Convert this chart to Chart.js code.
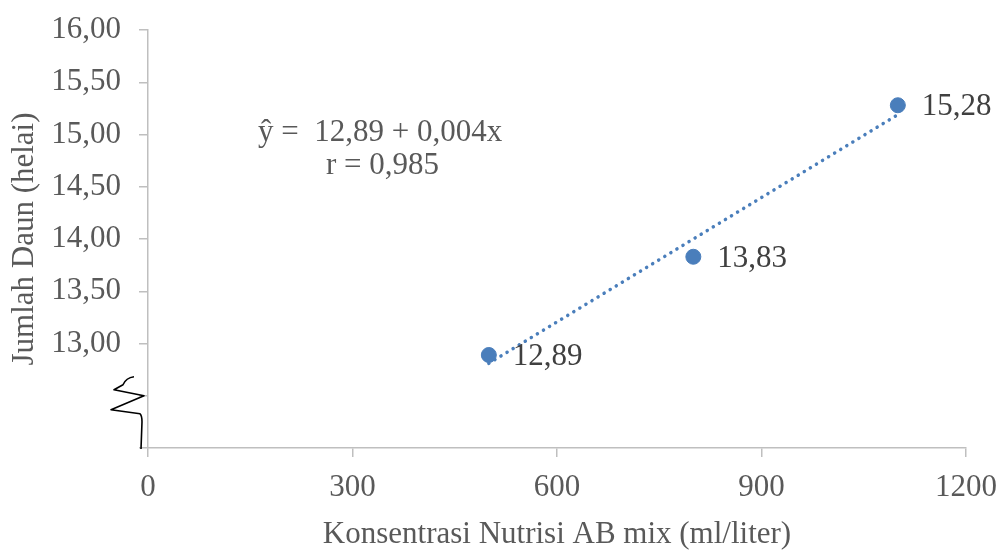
<!DOCTYPE html>
<html>
<head>
<meta charset="utf-8">
<script src="https://cdn.jsdelivr.net/npm/chart.js@4.4.1/dist/chart.umd.min.js"></script>
<style>
  html, body { margin: 0; padding: 0; background: #fff; }
  #wrap { width: 1000px; height: 550px; }
</style>
</head>
<body>
<div id="wrap"><canvas id="daun_chart" width="1000" height="550"></canvas></div>
<script>
// data
var konsentrasi = [500, 800, 1100];
var jumlah_daun = [12.89, 13.83, 15.28];
var label_daun = ['12,89', '13,83', '15,28'];
// trendline end points (linear fit)
var trend_x = [500, 1100];
var trend_y = [12.81, 15.19];
var persamaan = ['\u0177 =  12,89 + 0,004x', 'r = 0,985'];

var serif = '"Liberation Serif", "Times New Roman", serif';
var biru = '#4a7ebb';
var abu = '#595959';

function fmt_koma(v) {
    return v.toFixed(2).replace('.', ',');
}

var points = [];
for (let i = 0; i < konsentrasi.length; i++) {
    points.push({ x: konsentrasi[i], y: jumlah_daun[i] });
}
var trend_points = [];
for (let i = 0; i < trend_x.length; i++) {
    trend_points.push({ x: trend_x[i], y: trend_y[i] });
}

// labels beside each point, equation text and the axis break squiggle
var extras_plugin = {
    id: 'extras',
    afterDatasetsDraw: function (chart) {
        let ctx = chart.ctx;
        let sx = chart.scales.x;
        let sy = chart.scales.y;
        ctx.save();
        ctx.font = '31px ' + serif;
        ctx.fillStyle = '#404040';
        ctx.textBaseline = 'middle';
        ctx.textAlign = 'left';
        for (let i = 0; i < konsentrasi.length; i++) {
            let px = sx.getPixelForValue(konsentrasi[i]);
            let py = sy.getPixelForValue(jumlah_daun[i]);
            ctx.fillText(label_daun[i], px + 24, py + 2);
        }

        ctx.fillStyle = abu;
        ctx.fillText(persamaan[0], 258, 133);
        ctx.fillText(persamaan[1], 326, 166);

        // axis break
        let ax = sx.left;
        let y0 = sy.getPixelForValue(12.5);
        ctx.strokeStyle = '#000';
        ctx.lineWidth = 1.6;
        ctx.lineJoin = 'round';
        ctx.beginPath();
        ctx.moveTo(ax - 14, y0 - 19);
        ctx.quadraticCurveTo(ax - 22, y0 - 18, ax - 25, y0 - 11);
        ctx.lineTo(ax - 34, y0 - 6);
        ctx.lineTo(ax - 4, y0);
        ctx.lineTo(ax - 37, y0 + 14);
        ctx.lineTo(ax - 8, y0 + 18);
        ctx.quadraticCurveTo(ax - 6, y0 + 20, ax - 6, y0 + 26);
        ctx.lineTo(ax - 7, sy.bottom + 1);
        ctx.stroke();
        ctx.restore();
    }
};

var daun_chart = new Chart(document.getElementById('daun_chart').getContext('2d'), {
    type: 'scatter',
    data: {
        datasets: [{
            label: 'Jumlah Daun',
            data: points,
            backgroundColor: biru,
            borderColor: biru,
            pointRadius: 7.5,
            pointHoverRadius: 7.5,
            order: 1
        }, {
            label: 'Trend',
            type: 'line',
            data: trend_points,
            borderColor: biru,
            borderWidth: 3.5,
            borderDash: [0.1, 7],
            borderCapStyle: 'round',
            pointRadius: 0,
            fill: false,
            order: 2
        }]
    },
    options: {
        responsive: false,
        animation: false,
        layout: {
            padding: { top: 30, right: 34, left: 0, bottom: 0 }
        },
        plugins: {
            legend: { display: false },
            tooltip: { enabled: false }
        },
        scales: {
            x: {
                type: 'linear',
                min: 0,
                max: 1200,
                grid: {
                    drawOnChartArea: false,
                    drawTicks: true,
                    tickLength: 9,
                    color: '#bfbfbf',
                    lineWidth: 1.5
                },
                border: { color: '#bfbfbf', width: 1.5 },
                ticks: {
                    stepSize: 300,
                    padding: 12,
                    color: abu,
                    font: { family: serif, size: 31 },
                    callback: function (value) { return String(value); }
                },
                title: {
                    display: true,
                    text: 'Konsentrasi Nutrisi AB mix (ml/liter)',
                    color: abu,
                    font: { family: serif, size: 31, lineHeight: 1 },
                    padding: { top: 10, bottom: 0 }
                },
                afterFit: function (scale) {
                    scale.height = 102;
                    scale.paddingLeft = 0;
                    scale.paddingRight = 0;
                }
            },
            y: {
                min: 12,
                max: 16,
                grid: {
                    drawOnChartArea: false,
                    drawTicks: true,
                    tickLength: 9,
                    color: '#bfbfbf',
                    lineWidth: 1.5
                },
                border: { color: '#bfbfbf', width: 1.5 },
                ticks: {
                    stepSize: 0.5,
                    padding: 18,
                    color: abu,
                    font: { family: serif, size: 31 },
                    callback: function (value) {
                        if (value < 13) return '';
                        return fmt_koma(value);
                    }
                },
                title: {
                    display: true,
                    text: 'Jumlah Daun (helai)',
                    color: abu,
                    font: { family: serif, size: 31 },
                    padding: { top: 6, bottom: 4 }
                },
                afterFit: function (scale) {
                    scale.width = 148;
                    scale.paddingTop = 0;
                    scale.paddingBottom = 0;
                }
            }
        }
    },
    plugins: [extras_plugin]
});
</script>
</body>
</html>
